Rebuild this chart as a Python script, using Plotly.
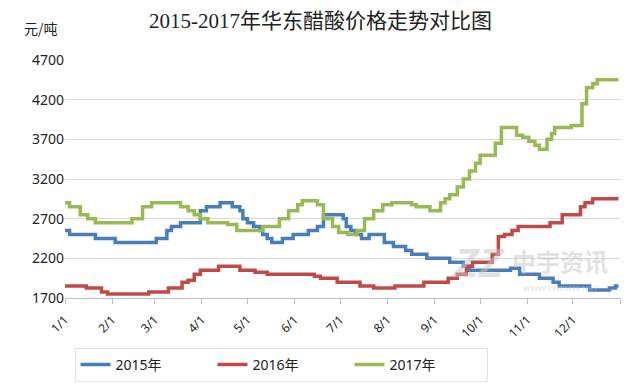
import pandas as pd
import plotly.graph_objects as go

# ---- data (day-of-year breakpoints, price in 元/吨) ----
days_2015 = [0, 3, 20, 33, 60, 67, 70, 76, 89, 93, 102, 110, 115, 117, 120, 124, 128, 130, 133, 136,
             143, 150, 160, 166, 170, 183, 185, 188, 191, 195, 200, 210, 216, 224, 228, 238, 253, 262,
             266, 293, 299, 312, 321, 325, 345, 358, 362, 364]
vals_2015 = [2550, 2500, 2450, 2400, 2450, 2550, 2600, 2650, 2800, 2850, 2900, 2850, 2800, 2700, 2650,
             2600, 2550, 2500, 2450, 2400, 2450, 2500, 2550, 2600, 2750, 2700, 2600, 2550, 2500, 2450,
             2500, 2400, 2350, 2300, 2250, 2200, 2150, 2100, 2050, 2075, 2000, 1950, 1900, 1850, 1800,
             1825, 1850, 1850]

days_2016 = [0, 14, 24, 28, 55, 68, 77, 81, 85, 89, 101, 115, 125, 133, 164, 168, 179, 194, 203, 217,
             236, 252, 258, 264, 268, 281, 285, 289, 294, 298, 319, 327, 339, 342, 347, 364]
vals_2016 = [1850, 1825, 1775, 1750, 1775, 1825, 1900, 1925, 2000, 2050, 2100, 2050, 2025, 2000, 1975,
             1950, 1900, 1850, 1825, 1850, 1900, 1950, 2000, 2100, 2150, 2250, 2475, 2500, 2550, 2600,
             2650, 2750, 2850, 2900, 2950, 2950]

days_2017 = [0, 3, 10, 15, 20, 44, 51, 57, 76, 81, 85, 89, 94, 107, 113, 130, 141, 147, 153, 156, 166,
             170, 176, 180, 186, 192, 197, 203, 209, 215, 228, 231, 240, 247, 250, 253, 258, 262, 266,
             270, 273, 283, 287, 297, 301, 305, 309, 312, 317, 320, 322, 333, 340, 343, 347, 350, 364]
vals_2017 = [2900, 2850, 2750, 2700, 2650, 2700, 2850, 2900, 2850, 2800, 2750, 2700, 2650, 2625, 2550,
             2600, 2700, 2800, 2875, 2925, 2875, 2700, 2600, 2525, 2500, 2550, 2700, 2800, 2875, 2900,
             2875, 2850, 2800, 2900, 2950, 3000, 3100, 3200, 3300, 3400, 3500, 3650, 3850, 3750, 3725,
             3675, 3625, 3575, 3700, 3775, 3850, 3875, 4150, 4350, 4400, 4450, 4450]

series_names = ["2015年", "2016年", "2017年"]
series_colors = ["#4a7ebb", "#be4b48", "#98b954"]

month_ticks = ["2015-%02d-01" % m for m in range(1, 13)] + ["2016-01-01"]
month_labels = ["%d/1" % m for m in range(1, 13)] + [""]
y_ticks = [1700, 2200, 2700, 3200, 3700, 4200, 4700]

base = pd.Timestamp("2015-01-01")


def to_dates(days):
    return [base + pd.Timedelta(days=d) for d in days]


fig = go.Figure()
for name, color, d, v in zip(series_names, series_colors,
                             [days_2015, days_2016, days_2017],
                             [vals_2015, vals_2016, vals_2017]):
    fig.add_trace(go.Scatter(x=to_dates(d), y=v, name=name, mode="lines",
                             line=dict(color=color, width=3.5, shape="hv")))

PW, PH = 555, 238


def px(x):
    return (x - 65) / PW


def py(y):
    return (298 - y) / PH


fig.update_layout(
    width=640, height=385,
    margin=dict(l=65, r=20, t=60, b=87, autoexpand=False),
    paper_bgcolor="white", plot_bgcolor="white",
    font=dict(family="Noto Sans, Noto Sans CJK SC", color="#222"),
    showlegend=True,
    legend=dict(orientation="h", xref="container", yref="container",
                x=281 / 640, xanchor="center", y=(385 - 348) / 385, yanchor="top",
                bordercolor="#e0e0e0", borderwidth=1, font=dict(size=14),
                entrywidth=92, entrywidthmode="pixels", itemwidth=30),
    annotations=[
        dict(text="2015-2017年华东醋酸价格走势对比图", xref="paper", yref="paper",
             x=px(320), y=py(21), xanchor="center", yanchor="middle",
             showarrow=False, font=dict(family="Liberation Serif, Noto Sans CJK SC", size=21, color="#222")),
        dict(text="元/吨", xref="paper", yref="paper", x=px(22), y=py(28),
             xanchor="left", yanchor="middle", showarrow=False,
             font=dict(family="Noto Sans CJK SC", size=14, color="#222")),
        dict(text="<b><i>ZZ</i></b>", xref="paper", yref="paper", x=px(478), y=py(263),
             xanchor="center", yanchor="middle", showarrow=False,
             font=dict(family="Liberation Sans", size=40, color="rgba(200,200,200,0.55)")),
        dict(text="<b>中宇资讯</b>", xref="paper", yref="paper", x=px(560), y=py(260),
             xanchor="center", yanchor="middle", showarrow=False,
             font=dict(family="Noto Sans CJK SC", size=24, color="rgba(200,200,200,0.55)")),
        dict(text="WWW.CHEM99.NET", xref="paper", yref="paper", x=px(560), y=py(288),
             xanchor="center", yanchor="middle", showarrow=False,
             font=dict(family="Liberation Sans", size=8, color="rgba(200,200,200,0.6)")),
    ],
)

fig.update_xaxes(type="date", range=["2015-01-01", "2016-01-01"], automargin=False,
                 tickvals=month_ticks, ticktext=month_labels, tickangle=-45,
                 ticks="outside", ticklen=5, tickcolor="#bfbfbf", ticklabelstandoff=4,
                 showline=True, linecolor="#bfbfbf", linewidth=1,
                 showgrid=False, zeroline=False, tickfont=dict(size=12))
fig.update_yaxes(range=[1700, 4700], tickvals=y_ticks, automargin=False, showgrid=True,
                 gridcolor="#d9d9d9", gridwidth=1, zeroline=False, showline=False,
                 ticks="", ticklen=0, tickfont=dict(size=14))

fig.write_html("out.html", config={"displayModeBar": False},
               post_script="document.body.style.margin='0';")
